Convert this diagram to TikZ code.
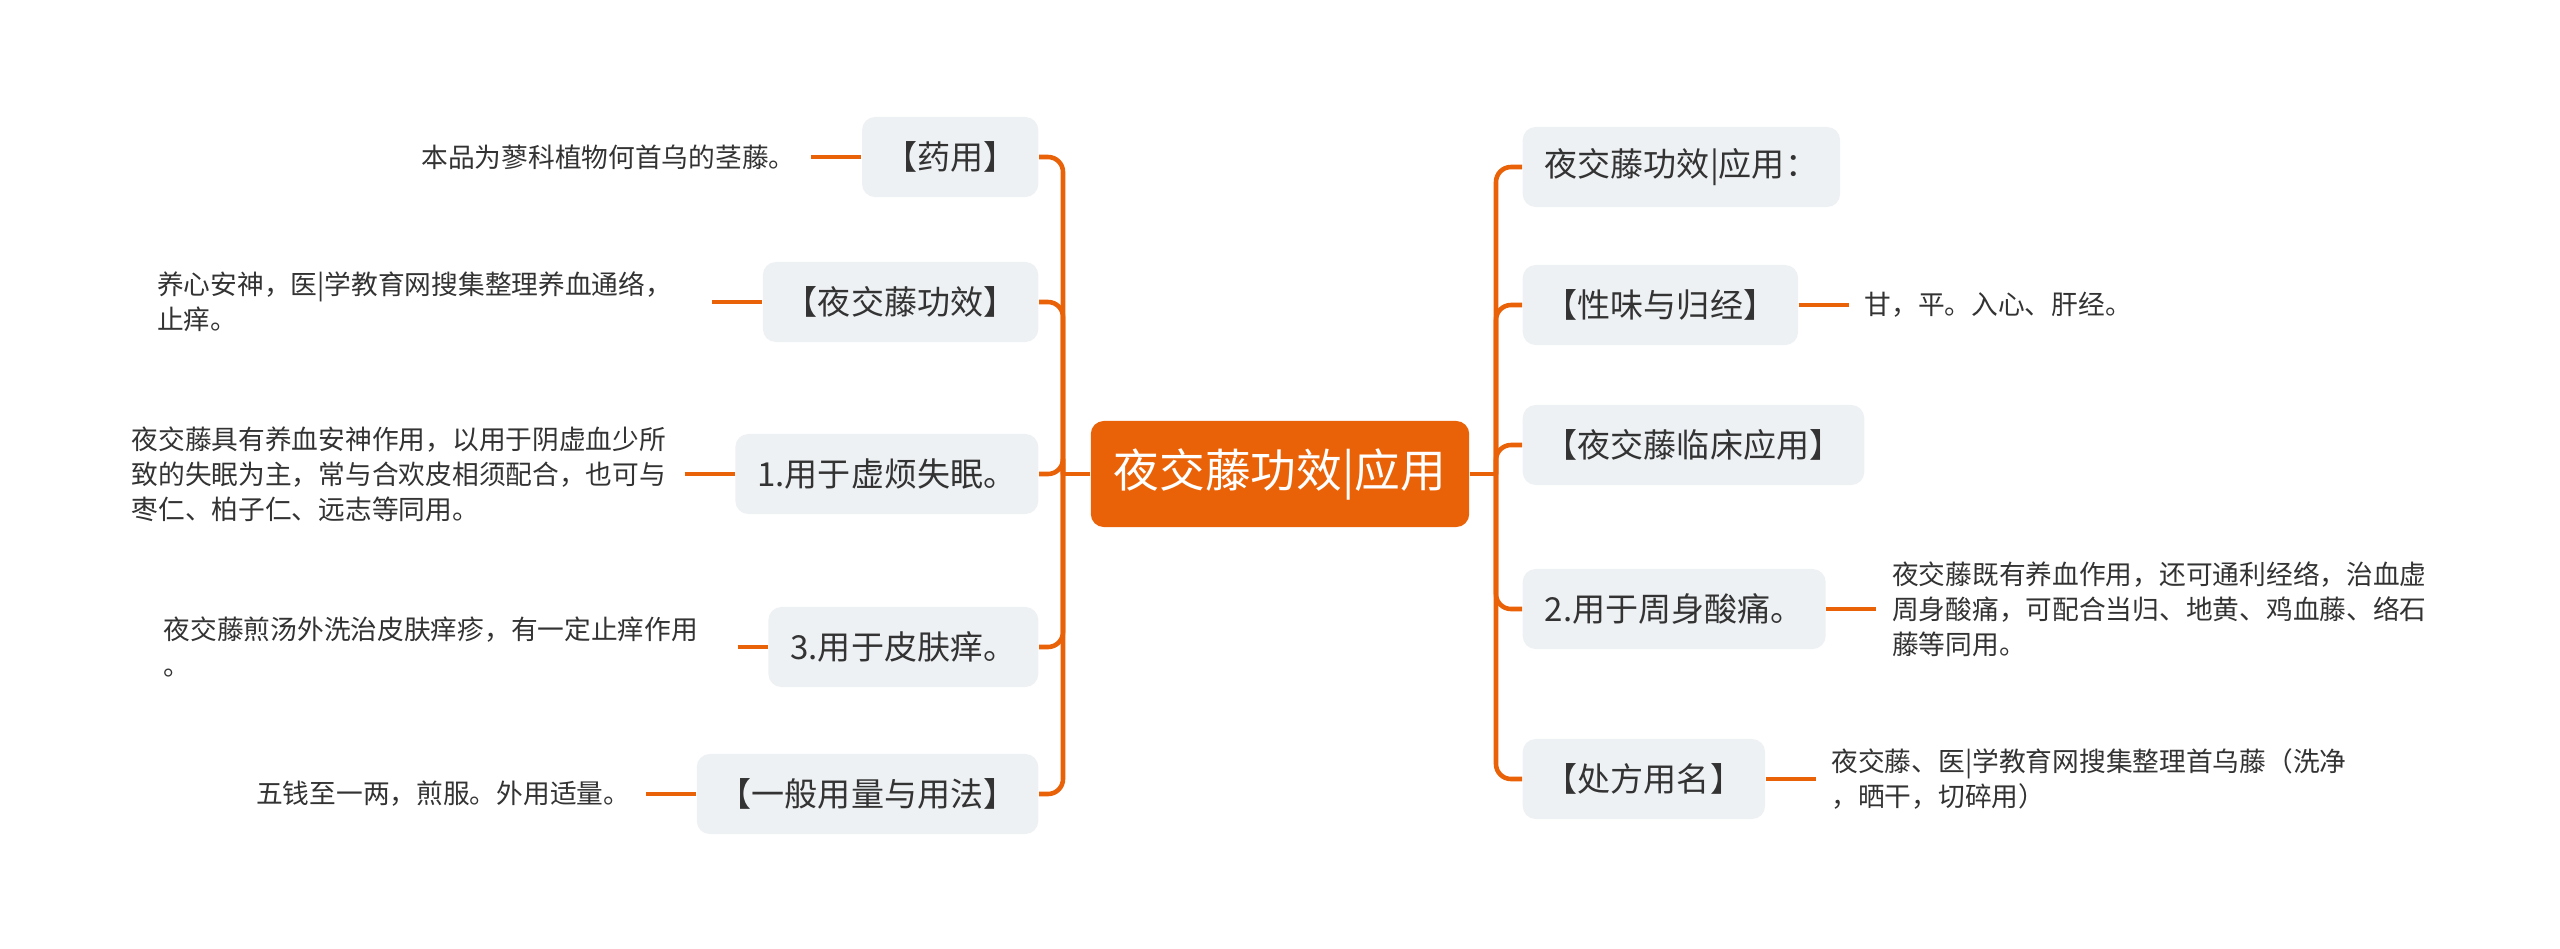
\documentclass[tikz,border=0pt]{standalone}
\usepackage{fontspec}
\setmainfont{Noto Sans CJK SC}
\usepackage{tikz}
\usetikzlibrary{positioning}

\definecolor{mmorange}{RGB}{234,98,8}
\definecolor{mmgrey}{RGB}{238,241,244}
\definecolor{mmtext}{RGB}{51,51,51}

\tikzset{
    topic/.style={rectangle, fill=mmgrey, rounded corners=0.13cm, minimum height=0.8cm, inner xsep=0.22cm, text=mmtext, font=\fontsize{9.4}{11}\selectfont},
    leaf/.style={inner xsep=0.15cm, inner ysep=0pt, align=left, text=mmtext, font=\fontsize{7.6}{10}\selectfont},
    link/.style={draw=mmorange, line width=1.3pt, rounded corners=0.15cm},
}

\begin{document}
\begin{tikzpicture}[x=0.01cm, y=-0.01cm]
    \fill[white] (0,0) rectangle (2560,948);
    \useasboundingbox (0,0) rectangle (2560,948);

    \node [rectangle, fill=mmorange, rounded corners=0.13cm, minimum height=1.06cm, inner xsep=0.23cm, text=white, font=\fontsize{13}{15}\selectfont] (root) at (1280,474) {夜交藤功效|应用};
    \coordinate (ls) at (1063,474);
    \coordinate (rs) at (1496,474);

    % left side
    \node [topic, anchor=east] (yy) at (1039,157) {【药用】};
    \node [topic, anchor=east] (gx) at (1039,302) {【夜交藤功效】};
    \node [topic, anchor=east] (xf) at (1039,474) {1.用于虚烦失眠。};
    \node [topic, anchor=east] (pf) at (1039,647) {3.用于皮肤痒。};
    \node [topic, anchor=east] (yl) at (1039,794) {【一般用量与用法】};

    \node [leaf, left=0.5cm of yy] (yy-t) {本品为蓼科植物何首乌的茎藤。};
    \node [leaf, text width=5.39cm, left=0.5cm of gx] (gx-t) {养心安神，医|学教育网搜集整理养血通络，\\止痒。};
    \node [leaf, text width=5.37cm, left=0.5cm of xf] (xf-t) {夜交藤具有养血安神作用，以用于阴虚血少所\\致的失眠为主，常与合欢皮相须配合，也可与\\枣仁、柏子仁、远志等同用。};
    \node [leaf, text width=5.58cm, left=0.3cm of pf] (pf-t) {夜交藤煎汤外洗治皮肤痒疹，有一定止痒作用\\。};
    \node [leaf, left=0.5cm of yl] (yl-t) {五钱至一两，煎服。外用适量。};

    % right side
    \node [topic, anchor=west] (gy) at (1522,167) {夜交藤功效|应用：};
    \node [topic, anchor=west] (xw) at (1522,305) {【性味与归经】};
    \node [topic, anchor=west] (lc) at (1522,445) {【夜交藤临床应用】};
    \node [topic, anchor=west] (zs) at (1522,609) {2.用于周身酸痛。};
    \node [topic, anchor=west] (cf) at (1522,779) {【处方用名】};

    \node [leaf, right=0.5cm of xw] (xw-t) {甘，平。入心、肝经。};
    \node [leaf, right=0.5cm of zs] (zs-t) {夜交藤既有养血作用，还可通利经络，治血虚\\周身酸痛，可配合当归、地黄、鸡血藤、络石\\藤等同用。};
    \node [leaf, right=0.5cm of cf] (cf-t) {夜交藤、医|学教育网搜集整理首乌藤（洗净\\，晒干，切碎用）};

    \draw [link] (root.west) -- (ls);
    \draw [link] (root.east) -- (rs);
    \foreach \n in {yy,gx,xf,pf,yl} {
        \draw [link] (\n.east) -| (ls);
        \draw [link] (\n-t.east) -- (\n.west);
    }
    \foreach \n in {gy,xw,lc,zs,cf}
        \draw [link] (\n.west) -| (rs);
    \foreach \n in {xw,zs,cf}
        \draw [link] (\n.east) -- (\n-t.west);
\end{tikzpicture}
\end{document}
